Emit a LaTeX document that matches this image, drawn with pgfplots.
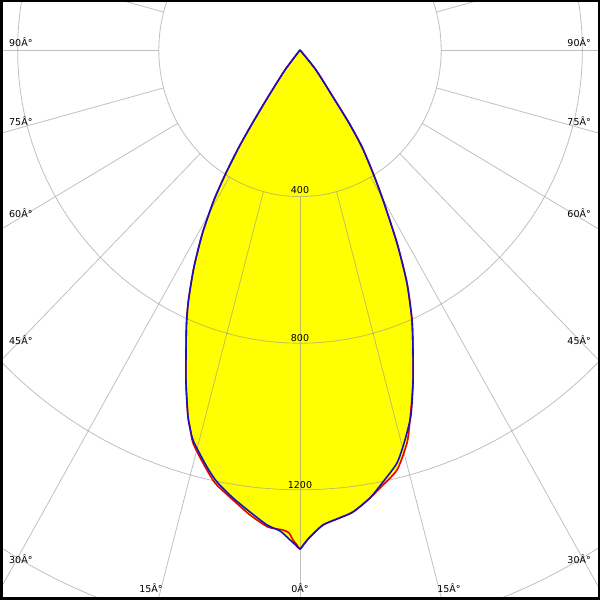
\documentclass[border=0pt]{standalone}
\usepackage{fontspec}
\setmainfont{DejaVu Sans}
\usepackage{pgfplots}
\usepackage{pgfplotstable}
\pgfplotsset{compat=1.18}

\definecolor{curvered}{RGB}{230,0,0}
\definecolor{curveblue}{RGB}{20,20,190}
\definecolor{gridgray}{RGB}{150,150,150}
\definecolor{fillyellow}{RGB}{255,255,0}

\tikzset{
  gridline/.style={gridgray, draw opacity=0.6, line width=0.8bp},
  lbl/.style={inner sep=0pt, text=black, font=\fontsize{9.5bp}{11bp}\selectfont},
}

% angle (deg, from nadir) and intensity (cd)
\pgfplotstableread{
a I
-90 0
-37.92 69.2
-35.26 157.1
-34.04 240.4
-33.14 316.1
-32.00 395.7
-30.77 476.3
-28.95 570.6
-26.90 663.9
-24.85 751.7
-23.35 811.3
-21.53 880.0
-19.57 964.3
-17.58 1050.4
-15.90 1106.5
-13.04 1167.9
-11.28 1201.9
-8.83 1237.0
-6.41 1268.5
-4.13 1299.4
-2.47 1313.6
-1.21 1337.3
-0.48 1351.7
0 1361.5
0.48 1348.4
1.22 1329.1
2.88 1297.7
4.68 1284.0
6.79 1269.5
9.22 1238.3
11.28 1201.9
13.71 1159.9
15.62 1104.9
17.52 1044.4
19.41 963.4
21.36 878.9
23.30 802.1
25.49 704.3
27.56 594.0
29.88 472.0
31.64 394.2
33.57 317.7
34.88 242.8
36.09 158.7
39.71 70.9
90 0
}\bluedata

\pgfplotstableread{
a I
-90 0
-37.92 69.2
-35.26 157.1
-34.04 240.4
-33.14 316.1
-32.00 395.7
-30.77 476.3
-28.95 570.6
-26.90 663.9
-24.85 751.7
-23.35 811.3
-21.53 880.0
-19.57 964.3
-17.58 1050.4
-16.86 1074.8
-15.79 1114.3
-13.71 1159.9
-11.52 1205.7
-8.79 1242.4
-6.37 1276.6
-3.99 1304.7
-2.11 1310.6
-1.35 1318.2
-0.85 1337.1
-0.36 1350.9
0 1361.5
0.48 1348.4
1.22 1329.1
2.88 1297.7
4.68 1284.0
6.79 1269.5
9.22 1238.3
10.74 1216.4
13.49 1178.5
15.79 1114.3
17.16 1056.6
19.41 963.4
21.36 878.9
23.30 802.1
25.49 704.3
27.56 594.0
29.88 472.0
31.64 394.2
33.57 317.7
34.88 242.8
36.09 158.7
39.71 70.9
90 0
}\reddata

\begin{document}
\begin{tikzpicture}
\begin{axis}[
    width=600bp, height=600bp, scale only axis,
    xmin=-850, xmax=850, ymin=-1500.7, ymax=136.4,
    xtick=\empty, ytick=\empty,
    axis line style={line width=5bp, black},
    axis on top,
    every axis plot/.append style={smooth, tension=0.4},
]
% filled areas
\addplot[draw=none, fill=fillyellow] table[x expr={\thisrow{I}*sin(\thisrow{a})}, y expr={-\thisrow{I}*cos(\thisrow{a})}] {\reddata};
\addplot[draw=none, fill=fillyellow] table[x expr={\thisrow{I}*sin(\thisrow{a})}, y expr={-\thisrow{I}*cos(\thisrow{a})}] {\bluedata};

% polar grid
\draw[gridline] (axis cs:0,0) ellipse [x radius=141.18bp, y radius=146.60bp];
\draw[gridline] (axis cs:0,0) ellipse [x radius=282.35bp, y radius=293.20bp];
\draw[gridline] (axis cs:0,0) ellipse [x radius=423.53bp, y radius=439.80bp];
\draw[gridline] (axis cs:0,0) ellipse [x radius=564.71bp, y radius=586.40bp];
\pgfplotsinvokeforeach{-105,-90,...,105}{
  \draw[gridline] (axis cs:{400*sin(#1)},{-400*cos(#1)}) -- (axis cs:{2500*sin(#1)},{-2500*cos(#1)});
}

% curves
\addplot[curvered, line width=1.6bp] table[x expr={\thisrow{I}*sin(\thisrow{a})}, y expr={-\thisrow{I}*cos(\thisrow{a})}] {\reddata};
\addplot[curveblue, line width=1.6bp] table[x expr={\thisrow{I}*sin(\thisrow{a})}, y expr={-\thisrow{I}*cos(\thisrow{a})}] {\bluedata};

% intensity labels
\node[lbl, anchor=base] at (axis cs:0,-391.5) {400};
\node[lbl, anchor=base] at (axis cs:0,-795.4) {800};
\node[lbl, anchor=base] at (axis cs:0,-1196.4) {1200};

% angle labels
\node[lbl, anchor=base west] at (axis cs:-824.5,9.55) {90Â°};
\node[lbl, anchor=base west] at (axis cs:-824.5,-206.0) {75Â°};
\node[lbl, anchor=base west] at (axis cs:-824.5,-457.0) {60Â°};
\node[lbl, anchor=base west] at (axis cs:-824.5,-803.5) {45Â°};
\node[lbl, anchor=base west] at (axis cs:-824.5,-1401.1) {30Â°};
\node[lbl, anchor=base east] at (axis cs:824.5,9.55) {90Â°};
\node[lbl, anchor=base east] at (axis cs:824.5,-206.0) {75Â°};
\node[lbl, anchor=base east] at (axis cs:824.5,-457.0) {60Â°};
\node[lbl, anchor=base east] at (axis cs:824.5,-803.5) {45Â°};
\node[lbl, anchor=base east] at (axis cs:824.5,-1401.1) {30Â°};
\node[lbl, anchor=base] at (axis cs:-422.2,-1480.2) {15Â°};
\node[lbl, anchor=base] at (axis cs:0,-1480.2) {0Â°};
\node[lbl, anchor=base] at (axis cs:422.2,-1480.2) {15Â°};
\end{axis}
\pgfresetboundingbox
\path[use as bounding box] (current axis.south west) rectangle (current axis.north east);
\end{tikzpicture}
\end{document}
